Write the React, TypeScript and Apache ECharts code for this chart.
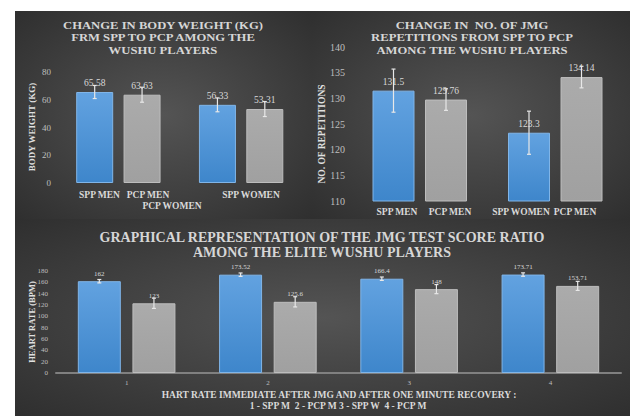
import React, { useEffect, useRef } from "react";
import * as echarts from "echarts";

const FONT = '"Liberation Serif", "Times New Roman", serif';

// Chart 1: body weight
const bwGroups = ["MEN", "WOMEN"];
const bwSpp = [65.58, 56.33];
const bwPcp = [63.63, 53.31];
const bwSppErr = [4.7, 5.0];
const bwPcpErr = [5.4, 5.4];
const bwLabels = ["SPP MEN", "PCP MEN", "SPP WOMEN", "PCP WOMEN"];
const bwTitle = ["CHANGE IN BODY WEIGHT (KG)", "FRM SPP TO PCP AMONG THE", "WUSHU PLAYERS"];

// Chart 2: JMG repetitions
const repGroups = ["MEN", "WOMEN"];
const repSpp = [131.5, 123.3];
const repPcp = [129.76, 134.14];
const repSppErr = [4.2, 4.2];
const repPcpErr = [2.1, 2.1];
const repLabels = ["SPP MEN", "PCP MEN", "SPP WOMEN", "PCP MEN"];
const repTitle = ["CHANGE IN  NO. OF JMG", "REPETITIONS FROM SPP TO PCP", "AMONG THE WUSHU PLAYERS"];

// Chart 3: heart rate
const hrCats = ["1", "2", "3", "4"];
const hrImmediate = [162, 173.52, 166.4, 173.71];
const hrRecovery = [123, 125.6, 148, 153.71];
const hrImmErr = [3, 3, 3, 3];
const hrRecErr = [9, 9, 8, 8];
const hrTitle = ["GRAPHICAL REPRESENTATION OF THE JMG TEST SCORE RATIO", "AMONG THE ELITE WUSHU PLAYERS"];
const hrXName = ["HART RATE IMMEDIATE AFTER JMG AND AFTER ONE MINUTE RECOVERY :", "1 - SPP M  2 - PCP M 3 - SPP W  4 - PCP M"];

const BLUE = {
  type: "linear", x: 0, y: 0, x2: 0, y2: 1,
  colorStops: [{ offset: 0, color: "#62a2e0" }, { offset: 1, color: "#3e86cb" }],
};
const GRAY = {
  type: "linear", x: 0, y: 0, x2: 0, y2: 1,
  colorStops: [{ offset: 0, color: "#ababab" }, { offset: 1, color: "#a0a0a0" }],
};

function errRender(barW: number, gap: number, sign: number) {
  return (params: any, api: any) => {
    const c = api.value(0);
    const v = api.value(1);
    const e = api.value(2);
    const hi = api.coord([c, v + e]);
    const lo = api.coord([c, v - e]);
    const x = hi[0] + (sign * barW * (1 + gap)) / 2;
    const st = { stroke: "#e8e8e8", lineWidth: 1.2 };
    return {
      type: "group",
      children: [
        { type: "line", shape: { x1: x, y1: hi[1], x2: x, y2: lo[1] }, style: st },
        { type: "line", shape: { x1: x - 2, y1: hi[1], x2: x + 2, y2: hi[1] }, style: st },
        { type: "line", shape: { x1: x - 2, y1: lo[1], x2: x + 2, y2: lo[1] }, style: st },
      ],
    };
  };
}

function panel(x: number, y: number, w: number, h: number) {
  return {
    type: "rect",
    z: -10,
    silent: true,
    shape: { x, y, width: w, height: h },
    style: {
      fill: {
        type: "radial", x: 0.5, y: 0.5, r: 0.95,
        colorStops: [{ offset: 0, color: "#545454" }, { offset: 1, color: "#222222" }],
      },
    },
  };
}

function txt(text: string, x: number, y: number, size: number, bold = true, color = "#d9d9d9", shadow = false, sx = 1) {
  const style: any = {
    text,
    fill: color,
    font: `${bold ? "bold " : ""}${size}px ${FONT}`,
    textAlign: "center",
    textVerticalAlign: "middle",
  };
  if (shadow) {
    style.shadowColor = "rgba(0,0,0,0.75)";
    style.shadowBlur = 3;
    style.shadowOffsetX = 1;
    style.shadowOffsetY = 1;
  }
  return { type: "text", z: 100, x, y, scaleX: sx, style };
}

function vtxt(text: string, x: number, y: number, size: number) {
  return {
    type: "text",
    z: 100,
    x,
    y,
    rotation: Math.PI / 2,
    style: {
      text,
      fill: "#e0e0e0",
      font: `bold ${size}px ${FONT}`,
      textAlign: "center",
      textVerticalAlign: "middle",
    },
  };
}

export default function App() {
  const ref = useRef<HTMLDivElement>(null);
  useEffect(() => {
    if (!ref.current) return;
    const chart = echarts.init(ref.current, undefined, { renderer: "svg" });

    const W1 = 37, G1 = 0.28;
    const W2 = 42, G2 = 0.25;
    const W3 = 43, G3 = 0.27;

    const barLabel = (size: number) => ({
      show: true,
      position: "top",
      distance: 4,
      color: "#d9d9d9",
      fontFamily: FONT,
      fontSize: size,
    });
    const barItem = (color: any, border: string) => ({ color, borderColor: border, borderWidth: 1 });

    const yAxisBase = (gi: number, min: number, max: number, interval: number, size: number, margin: number) => ({
      type: "value",
      gridIndex: gi,
      min,
      max,
      interval,
      splitLine: { show: false },
      axisLine: { show: false },
      axisTick: { show: false },
      axisLabel: { color: "#bfbfbf", fontFamily: FONT, fontSize: size, margin },
    });

    chart.setOption({
      animation: false,
      backgroundColor: "#ffffff",
      grid: [
        { left: 57, top: 72, width: 245.5, height: 111 },
        { left: 352, top: 47, width: 271, height: 154 },
        { left: 56, top: 271, width: 565, height: 102 },
      ],
      xAxis: [
        { type: "category", gridIndex: 0, data: bwGroups, axisLine: { show: false }, axisTick: { show: false }, axisLabel: { show: false } },
        { type: "category", gridIndex: 1, data: repGroups, axisLine: { show: false }, axisTick: { show: false }, axisLabel: { show: false } },
        {
          type: "category", gridIndex: 2, data: hrCats,
          axisLine: { show: true, lineStyle: { color: "#808080", width: 2 } },
          axisTick: { show: false },
          axisLabel: { color: "#bfbfbf", fontFamily: FONT, fontSize: 7, margin: 6 },
        },
      ],
      yAxis: [
        yAxisBase(0, 0, 80, 20, 9, 6),
        yAxisBase(1, 110, 140, 5, 10, 7),
        yAxisBase(2, 0, 180, 20, 7, 8),
      ],
      series: [
        { type: "bar", name: "SPP", xAxisIndex: 0, yAxisIndex: 0, data: bwSpp, barWidth: W1, barGap: `${G1 * 100}%`, itemStyle: barItem(BLUE, "#80b5e8"), label: barLabel(9.5) },
        { type: "bar", name: "PCP", xAxisIndex: 0, yAxisIndex: 0, data: bwPcp, barWidth: W1, barGap: `${G1 * 100}%`, itemStyle: barItem(GRAY, "#bdbdbd"), label: barLabel(9.5) },
        { type: "custom", xAxisIndex: 0, yAxisIndex: 0, z: 5, data: bwSpp.map((v, i) => [i, v, bwSppErr[i]]), encode: { x: 0, y: 1 }, renderItem: errRender(W1, G1, -1) },
        { type: "custom", xAxisIndex: 0, yAxisIndex: 0, z: 5, data: bwPcp.map((v, i) => [i, v, bwPcpErr[i]]), encode: { x: 0, y: 1 }, renderItem: errRender(W1, G1, 1) },

        { type: "bar", name: "SPP", xAxisIndex: 1, yAxisIndex: 1, data: repSpp, barWidth: W2, barGap: `${G2 * 100}%`, itemStyle: barItem(BLUE, "#80b5e8"), label: barLabel(9.5) },
        { type: "bar", name: "PCP", xAxisIndex: 1, yAxisIndex: 1, data: repPcp, barWidth: W2, barGap: `${G2 * 100}%`, itemStyle: barItem(GRAY, "#bdbdbd"), label: barLabel(9.5) },
        { type: "custom", xAxisIndex: 1, yAxisIndex: 1, z: 5, data: repSpp.map((v, i) => [i, v, repSppErr[i]]), encode: { x: 0, y: 1 }, renderItem: errRender(W2, G2, -1) },
        { type: "custom", xAxisIndex: 1, yAxisIndex: 1, z: 5, data: repPcp.map((v, i) => [i, v, repPcpErr[i]]), encode: { x: 0, y: 1 }, renderItem: errRender(W2, G2, 1) },

        { type: "bar", name: "Immediate", xAxisIndex: 2, yAxisIndex: 2, data: hrImmediate, barWidth: W3, barGap: `${G3 * 100}%`, itemStyle: barItem(BLUE, "#80b5e8"), label: barLabel(7) },
        { type: "bar", name: "Recovery", xAxisIndex: 2, yAxisIndex: 2, data: hrRecovery, barWidth: W3, barGap: `${G3 * 100}%`, itemStyle: barItem(GRAY, "#bdbdbd"), label: barLabel(7) },
        { type: "custom", xAxisIndex: 2, yAxisIndex: 2, z: 5, data: hrImmediate.map((v, i) => [i, v, hrImmErr[i]]), encode: { x: 0, y: 1 }, renderItem: errRender(W3, G3, -1) },
        { type: "custom", xAxisIndex: 2, yAxisIndex: 2, z: 5, data: hrRecovery.map((v, i) => [i, v, hrRecErr[i]]), encode: { x: 0, y: 1 }, renderItem: errRender(W3, G3, 1) },
      ],
      graphic: [
        panel(15, 11, 297, 208),
        panel(312, 11, 318, 208),
        panel(15, 219, 615, 197),
        ...bwTitle.map((t, i) => txt(t, 163, 25 + i * 12.5, 11, true, "#d6d6d6", true, 1.15)),
        ...repTitle.map((t, i) => txt(t, 472, 25 + i * 12.5, 11, true, "#d6d6d6", true, 1.15)),
        ...hrTitle.map((t, i) => txt(t, 322, 237.5 + i * 15, 14, true, "#d6d6d6", true)),
        vtxt("BODY WEIGHT (KG)", 32, 127, 9),
        vtxt("NO. OF REPETITIONS", 322, 134, 9.5),
        vtxt("HEART RATE (BPM)", 32, 322, 8.5),
        txt(bwLabels[0], 99.5, 195, 9.5),
        txt(bwLabels[1], 148, 195, 9.5),
        txt(bwLabels[2], 251, 195, 9.5),
        txt(bwLabels[3], 172, 205.5, 9.5),
        txt(repLabels[0], 397, 212, 9.5),
        txt(repLabels[1], 450, 212, 9.5),
        txt(repLabels[2], 521, 212, 9.5),
        txt(repLabels[3], 575, 212, 9.5),
        txt(hrXName[0], 339, 395, 9.5),
        txt(hrXName[1], 338, 406, 9.5),
      ],
    });
    return () => chart.dispose();
  }, []);
  return (
    <div
      ref={ref}
      style={{ position: "fixed", left: 0, top: 0, width: 635, height: 416, background: "#fff" }}
    />
  );
}
